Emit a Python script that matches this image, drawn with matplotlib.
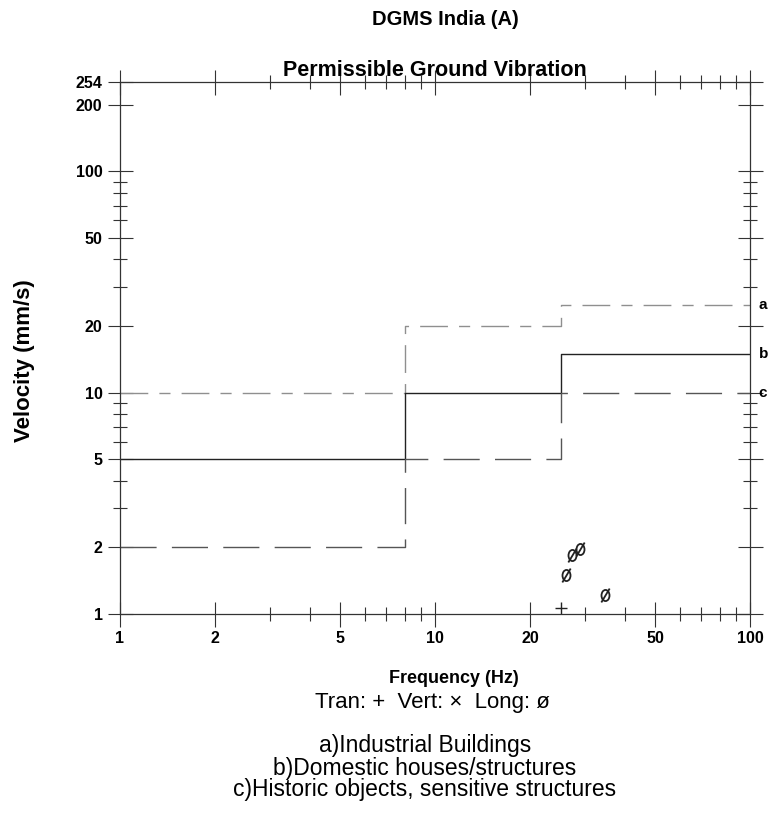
import matplotlib
matplotlib.use("Agg")
import matplotlib.pyplot as plt
import numpy as np
from matplotlib.ticker import FixedLocator, NullFormatter, LogLocator
from matplotlib.path import Path
from matplotlib.transforms import Affine2D

plt.rcParams['font.family'] = ['Liberation Sans', 'DejaVu Sans']

# Limit curves (DGMS India)
freq_steps = [1, 8, 25, 100]
industrial = [10, 20, 25]
domestic = [5, 10, 15]
historic = [2, 5, 10]
curve_labels = ['a', 'b', 'c']

# Measured points
tran_f = [25.1]
tran_v = [1.06]
long_f = [26.0, 27.2, 28.9, 34.7]
long_v = [1.49, 1.85, 1.97, 1.21]

xticks = [1, 2, 5, 10, 20, 50, 100]
yticks = [1, 2, 5, 10, 20, 50, 100, 200, 254]

fig = plt.figure(figsize=(7.84, 8.27), dpi=100)
ax = fig.add_axes([0.153, 0.258, 0.804, 0.643])
ax.set_xscale('log')
ax.set_yscale('log')
ax.set_xlim(1, 100)
ax.set_ylim(1, 254)

def step_xy(vals):
    xs, ys = [], []
    for i, v in enumerate(vals):
        xs += [freq_steps[i], freq_steps[i + 1]]
        ys += [v, v]
    return xs, ys

styles = [
    dict(color='#8f8f8f', lw=1.0, dashes=(20, 8, 8, 8)),
    dict(color='#222222', lw=1.0, linestyle='-'),
    dict(color='#555555', lw=1.0, dashes=(26, 11)),
]
for vals, st, lab in zip([industrial, domestic, historic], styles, curve_labels):
    xs, ys = step_xy(vals)
    ax.plot(xs, ys, **st)
    ax.text(1.013, vals[-1], lab, transform=ax.get_yaxis_transform(),
            ha='left', va='center', fontsize=11, fontweight='bold')

# slashed-oval marker (ø)
circ = Path.unit_circle().transformed(Affine2D().scale(0.72, 1.0))
slash = Path([(-0.75, -1.25), (0.75, 1.25)], [Path.MOVETO, Path.LINETO])
oslash = Path.make_compound_path(circ, slash)

ax.plot(tran_f, tran_v, linestyle='none', marker='+', color='#222222',
        markersize=8, markeredgewidth=1.0)
ax.plot(long_f, long_v, linestyle='none', marker=oslash, color='#222222',
        markersize=10, markeredgewidth=1.3, fillstyle='none')

ax.xaxis.set_major_locator(FixedLocator(xticks))
ax.yaxis.set_major_locator(FixedLocator(yticks))
ax.set_xticklabels([str(t) for t in xticks], fontweight='bold', fontsize=11.5)
ax.set_yticklabels([str(t) for t in yticks], fontweight='bold', fontsize=11.5)
ax.xaxis.set_minor_locator(LogLocator(base=10, subs=np.arange(2, 10)))
ax.yaxis.set_minor_locator(LogLocator(base=10, subs=np.arange(2, 10)))
ax.xaxis.set_minor_formatter(NullFormatter())
ax.yaxis.set_minor_formatter(NullFormatter())
ax.tick_params(which='major', direction='inout', length=18, width=0.8,
               top=True, right=True, color='#333333')
ax.tick_params(which='minor', direction='inout', length=10, width=0.8,
               top=True, right=True, color='#333333')
ax.tick_params(axis='y', which='major', labelright=False)
for sp in ax.spines.values():
    sp.set_linewidth(0.9)
    sp.set_color('#333333')

ax.set_ylabel('Velocity (mm/s)', fontsize=16, fontweight='bold')
ax.yaxis.set_label_coords(-0.135, 0.475)
ax.set_title('Permissible Ground Vibration', fontsize=15.5, fontweight='bold', pad=4)

fig.text(0.579, 0.180, 'Frequency (Hz)', ha='center', va='center',
         fontsize=13, fontweight='bold')
fig.text(0.568, 0.976, 'DGMS India (A)', ha='center', va='center',
         fontsize=14.5, fontweight='bold')
fig.text(0.552, 0.150, 'Tran: +  Vert: \u00d7  Long: \u00f8', ha='center', va='center',
         fontsize=16)
fig.text(0.542, 0.099, 'a)Industrial Buildings', ha='center', va='center', fontsize=16.5)
fig.text(0.542, 0.071, 'b)Domestic houses/structures', ha='center', va='center', fontsize=16.5)
fig.text(0.542, 0.045, 'c)Historic objects, sensitive structures', ha='center', va='center', fontsize=16.5)

fig.savefig('out.png', dpi=100)
